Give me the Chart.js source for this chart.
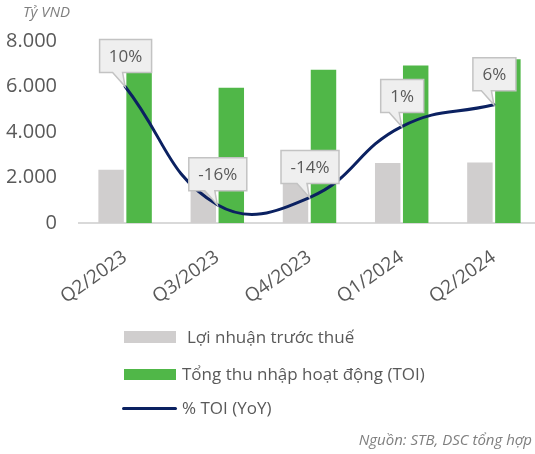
<!DOCTYPE html>
<html>
<head>
<meta charset="utf-8">
<script src="https://cdn.jsdelivr.net/npm/chart.js@4"></script>
<style>
html,body{margin:0;padding:0;background:#fff;}
#wrap{position:relative;width:535px;height:454px;overflow:hidden;font-family:"Open Sans",sans-serif;}
#c{position:absolute;left:0;top:0;}
.t{position:absolute;white-space:nowrap;color:#595959;}
.it{font-style:italic;color:#7f7f7f;font-size:15px;}
.lg{font-size:17px;line-height:20px;}
.sw{position:absolute;}
</style>
</head>
<body>
<div id="wrap">
<canvas id="c" width="545" height="454"></canvas>
<div class="t it" style="left:23px;top:1px;">Tỷ VND</div>
<div class="sw" style="left:124px;top:331px;width:52px;height:12px;background:#d0cece;"></div>
<div class="t lg" style="left:187px;top:327px;">Lợi nhuận trước thuế</div>
<div class="sw" style="left:124px;top:369px;width:52px;height:11px;background:#50b748;"></div>
<div class="t lg" style="left:182px;top:364px;">Tổng thu nhập hoạt động (TOI)</div>
<div class="sw" style="left:122px;top:407px;width:55px;height:3px;border-radius:2px;background:#0b2161;"></div>
<div class="t lg" style="left:182px;top:398px;">% TOI (YoY)</div>
<div class="t it" style="right:3px;top:429px;">Nguồn: STB, DSC tổng hợp</div>
</div>
<script>
const categories = ["Q2/2023","Q3/2023","Q4/2023","Q1/2024","Q2/2024"];
const profitBeforeTax = [2340, 1850, 1850, 2640, 2660];
const totalOperatingIncome = [6640, 5950, 6740, 6920, 7200];
const toiYoY = [10, -16, -14.4, 1.2, 6];
const toiYoYLabels = ["10%","-16%","-14%","1%","6%"];
const yTicks = [0, 2000, 4000, 6000, 8000];

const calloutPlugin = {
  id: 'callouts',
  afterDatasetsDraw(chart) {
    const meta = chart.getDatasetMeta(2);
    const ctx = chart.ctx;
    ctx.save();
    ctx.font = '17px "Open Sans"';
    meta.data.forEach((pt, i) => {
      const txt = toiYoYLabels[i];
      const tw = ctx.measureText(txt).width;
      const w = Math.round(tw + 19), h = 33;
      const cx = pt.x + 0.5, tipY = pt.y;
      const left = cx - w / 2, right = cx + w / 2;
      const bottom = tipY - 14, top = bottom - h;
      ctx.beginPath();
      ctx.moveTo(left, top);
      ctx.lineTo(right, top);
      ctx.lineTo(right, bottom);
      ctx.lineTo(cx - 3, bottom);
      ctx.lineTo(pt.x, tipY);
      ctx.lineTo(cx - 13, bottom);
      ctx.lineTo(left, bottom);
      ctx.closePath();
      ctx.fillStyle = '#efefef';
      ctx.fill();
      ctx.lineWidth = 1.5;
      ctx.strokeStyle = '#c3c3c3';
      ctx.stroke();
      ctx.fillStyle = '#595959';
      ctx.textAlign = 'center';
      ctx.textBaseline = 'middle';
      ctx.fillText(txt, cx, (top + bottom) / 2 + 1);
    });
    ctx.restore();
  }
};

new Chart(document.getElementById('c'), {
  data: {
    labels: categories,
    datasets: [
      { type: 'bar', label: 'Lợi nhuận trước thuế', data: profitBeforeTax, backgroundColor: '#d0cece', yAxisID: 'y', order: 2, categoryPercentage: 0.607, barPercentage: 0.91 },
      { type: 'bar', label: 'Tổng thu nhập hoạt động (TOI)', data: totalOperatingIncome, backgroundColor: '#50b748', yAxisID: 'y', order: 2, categoryPercentage: 0.607, barPercentage: 0.91 },
      { type: 'line', label: '% TOI (YoY)', data: toiYoY, borderColor: '#0b2161', borderWidth: 3, pointRadius: 0, tension: 0.45, yAxisID: 'y1', order: 0, borderCapStyle: 'round' }
    ]
  },
  options: {
    responsive: false,
    animation: false,
    layout: { padding: { top: 41, right: 5, left: 0, bottom: 0 } },
    plugins: { legend: { display: false }, tooltip: { enabled: false } },
    scales: {
      x: {
        grid: { display: false, drawTicks: false },
        border: { display: true, color: '#d9d9d9', width: 2 },
        ticks: { color: '#595959', font: { family: 'Open Sans', size: 19 }, minRotation: 35, maxRotation: 35, padding: 23 },
        afterFit(s) { s.height = 231; }
      },
      y: {
        min: 0, max: 8000,
        afterBuildTicks(s) { s.ticks = yTicks.map(v => ({ value: v })); },
        grid: { display: false, drawTicks: false },
        border: { display: false },
        ticks: { color: '#595959', font: { family: 'Open Sans', size: 20 }, padding: 22,
          callback: v => v.toLocaleString('de-DE') },
        afterFit(s) { s.width = 79; }
      },
      y1: { min: -20, max: 20, display: false, position: 'right' }
    }
  },
  plugins: [calloutPlugin]
});
</script>
</body>
</html>
